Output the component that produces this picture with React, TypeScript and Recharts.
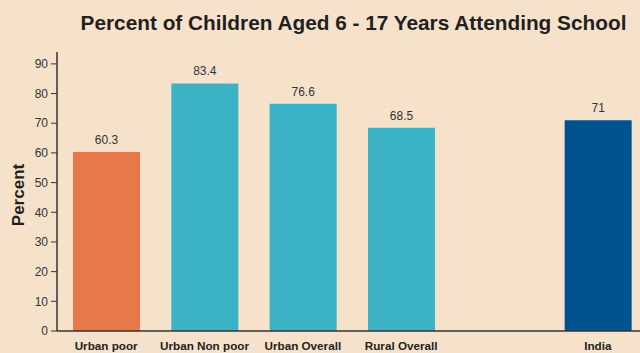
import React from 'react';
import { BarChart, Bar, XAxis, YAxis, Cell, LabelList } from 'recharts';

const categories = ['Urban poor', 'Urban Non poor', 'Urban Overall', 'Rural Overall', '', 'India'];
const percents: (number | null)[] = [60.3, 83.4, 76.6, 68.5, null, 71];
const barColors = ['#E8794A', '#3BB3C4', '#3BB3C4', '#3BB3C4', '#3BB3C4', '#00528F'];
const yTicks = [0, 10, 20, 30, 40, 50, 60, 70, 80, 90];

const data = categories.map((name, i) => ({ name, value: percents[i] }));

const font = 'Arial, "Liberation Sans", Helvetica, sans-serif';

const App: React.FC = () => {
  return (
    <div
      style={{
        position: 'absolute',
        left: 0,
        top: 0,
        width: 640,
        height: 353,
        overflow: 'hidden',
        background: '#F6E2CA',
        fontFamily: font,
      }}
    >
      <div
        style={{
          position: 'absolute',
          left: 0,
          top: 11,
          width: 707,
          textAlign: 'center',
          fontSize: 20.8,
          fontWeight: 'bold',
          color: '#231F20',
        }}
      >
        Percent of Children Aged 6 - 17 Years Attending School
      </div>
      <div
        style={{
          position: 'absolute',
          left: 19,
          top: 195,
          transform: 'translate(-50%, -50%) rotate(-90deg)',
          fontSize: 17,
          fontWeight: 'bold',
          color: '#231F20',
          whiteSpace: 'nowrap',
        }}
      >
        Percent
      </div>
      <BarChart
        width={647}
        height={353}
        data={data}
        margin={{ top: 52, right: 0, bottom: 0, left: 0 }}
        barSize={67}
      >
        <XAxis
          dataKey="name"
          axisLine={{ stroke: '#333', strokeWidth: 1.5 }}
          tickLine={false}
          height={22}
          interval={0}
          tickMargin={5}
          tick={{ fill: '#231F20', fontSize: 11.7, fontWeight: 'bold', fontFamily: font }}
        />
        <YAxis
          width={57}
          domain={[0, 94]}
          ticks={yTicks}
          axisLine={{ stroke: '#333', strokeWidth: 1.5 }}
          tickLine={{ stroke: '#333' }}
          tickSize={6}
          tickMargin={3}
          tick={{ fill: '#333', fontSize: 12, fontFamily: font }}
        />
        <Bar dataKey="value" isAnimationActive={false}>
          {data.map((d, i) => (
            <Cell key={d.name + i} fill={barColors[i]} />
          ))}
          <LabelList
            dataKey="value"
            position="top"
            offset={8}
            style={{ fill: '#333', fontSize: 12, fontFamily: font }}
          />
        </Bar>
      </BarChart>
    </div>
  );
};

export default App;
